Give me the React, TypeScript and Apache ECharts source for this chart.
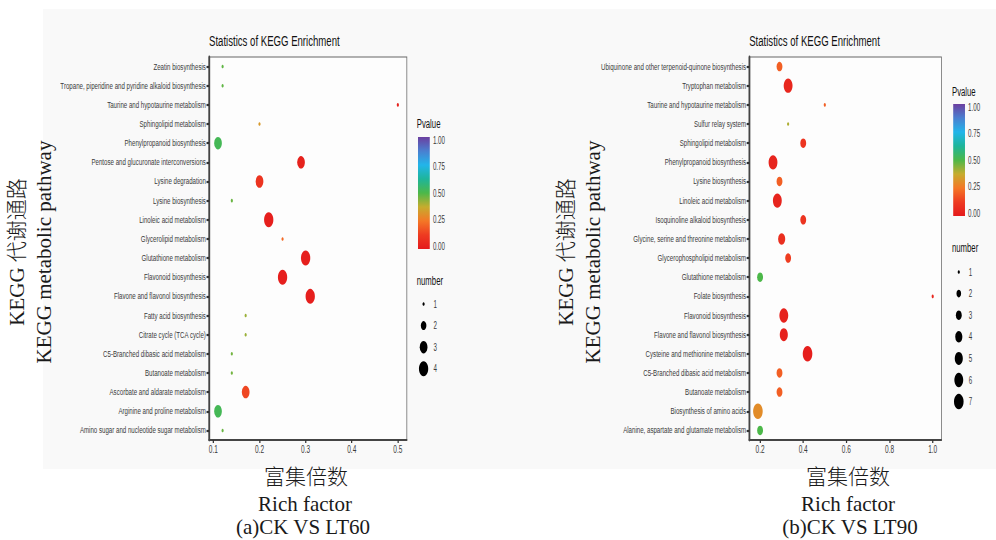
import React, { useEffect, useRef } from "react";
import * as echarts from "echarts";

// ---------------- data ----------------
const pathwaysA = [
  "Zeatin biosynthesis",
  "Tropane, piperidine and pyridine alkaloid biosynthesis",
  "Taurine and hypotaurine metabolism",
  "Sphingolipid metabolism",
  "Phenylpropanoid biosynthesis",
  "Pentose and glucuronate interconversions",
  "Lysine degradation",
  "Lysine biosynthesis",
  "Linoleic acid metabolism",
  "Glycerolipid metabolism",
  "Glutathione metabolism",
  "Flavonoid biosynthesis",
  "Flavone and flavonol biosynthesis",
  "Fatty acid biosynthesis",
  "Citrate cycle (TCA cycle)",
  "C5-Branched dibasic acid metabolism",
  "Butanoate metabolism",
  "Ascorbate and aldarate metabolism",
  "Arginine and proline metabolism",
  "Amino sugar and nucleotide sugar metabolism",
];
const richFactorA = [0.12, 0.12, 0.5, 0.2, 0.11, 0.29, 0.2, 0.14, 0.22, 0.25, 0.3, 0.25, 0.31, 0.17, 0.17, 0.14, 0.14, 0.17, 0.11, 0.12];
const numberA = [1, 1, 1, 1, 3, 3, 3, 1, 4, 1, 4, 4, 4, 1, 1, 1, 1, 3, 3, 1];
const pValueA = [0.48, 0.48, 0.03, 0.33, 0.52, 0.03, 0.1, 0.47, 0.02, 0.22, 0.02, 0.02, 0.02, 0.42, 0.42, 0.46, 0.46, 0.15, 0.52, 0.47];

const pathwaysB = [
  "Ubiquinone and other terpenoid-quinone biosynthesis",
  "Tryptophan metabolism",
  "Taurine and hypotaurine metabolism",
  "Sulfur relay system",
  "Sphingolipid metabolism",
  "Phenylpropanoid biosynthesis",
  "Lysine biosynthesis",
  "Linoleic acid metabolism",
  "Isoquinoline alkaloid biosynthesis",
  "Glycine, serine and threonine metabolism",
  "Glycerophospholipid metabolism",
  "Glutathione metabolism",
  "Folate biosynthesis",
  "Flavonoid biosynthesis",
  "Flavone and flavonol biosynthesis",
  "Cysteine and methionine metabolism",
  "C5-Branched dibasic acid metabolism",
  "Butanoate metabolism",
  "Biosynthesis of amino acids",
  "Alanine, aspartate and glutamate metabolism",
];
const richFactorB = [0.29, 0.33, 0.5, 0.33, 0.4, 0.26, 0.29, 0.28, 0.4, 0.3, 0.33, 0.2, 1.0, 0.31, 0.31, 0.42, 0.29, 0.29, 0.19, 0.2];
const numberB = [3, 6, 1, 1, 3, 6, 3, 6, 3, 4, 3, 3, 1, 6, 5, 7, 3, 3, 7, 3];
const pValueB = [0.2, 0.05, 0.2, 0.4, 0.1, 0.04, 0.2, 0.04, 0.1, 0.08, 0.13, 0.5, 0.05, 0.03, 0.03, 0.02, 0.2, 0.2, 0.3, 0.5];

const xTicksA = [0.1, 0.2, 0.3, 0.4, 0.5];
const xTicksB = [0.2, 0.4, 0.6, 0.8, 1.0];
const pvalueTicks = [1.0, 0.75, 0.5, 0.25, 0.0];
const numberLevelsA = [1, 2, 3, 4];
const numberLevelsB = [1, 2, 3, 4, 5, 6, 7];

const titleText = "Statistics of KEGG Enrichment";
const yTitleCN = "KEGG 代谢通路";
const yTitleEN = "KEGG metabolic pathway";
const xTitleCN = "富集倍数";
const xTitleEN = "Rich factor";
const captionA = "(a)CK VS LT60";
const captionB = "(b)CK VS LT90";

// ---------------- styles ----------------
const W = 1606; // unsquished width of the ggplot part
const S = 996 / W; // horizontal squish of the embedded figure
const SANS = "'Liberation Sans', Arial, sans-serif";
const SERIF = "'Liberation Serif', 'Times New Roman', 'Noto Sans CJK SC', serif";
const PCOLORS = ["#e41a1c", "#ee3b21", "#f47726", "#c6ac2e", "#4cb849", "#1eb59a", "#22b5ea", "#4a7fd0", "#6b3fa0"];
const SIZE_A = [0, 3.5, 9, 12.5, 15];
const SIZE_B = [0, 3.5, 7.5, 9.5, 11.5, 13, 14.3, 15.5];
const LABEL_COLOR = "#3a3a3a";

function buildLegend(x: number, pTitleY: number, p0Y: number, nTitleY: number, n1Y: number, sizes: number[], levels: number[]) {
  const els: any[] = [];
  const span = 106;
  const stops = PCOLORS.map((c, i) => ({ offset: 1 - i / (PCOLORS.length - 1), color: c })).reverse();
  els.push({ type: "text", x, y: pTitleY, style: { text: "Pvalue", fontSize: 12.5, fontFamily: SANS, fill: "#111", verticalAlign: "middle" } });
  els.push({
    type: "rect",
    shape: { x: x + 2, y: p0Y - span - 3, width: 19, height: span + 6 },
    style: { fill: new echarts.graphic.LinearGradient(0, 0, 0, 1, stops) },
  });
  pvalueTicks.forEach((v) => {
    els.push({ type: "text", x: x + 26, y: p0Y - v * span, style: { text: v.toFixed(2), fontSize: 10, fontFamily: SANS, fill: LABEL_COLOR, verticalAlign: "middle" } });
  });
  els.push({ type: "text", x, y: nTitleY, style: { text: "number", fontSize: 12.5, fontFamily: SANS, fill: "#111", verticalAlign: "middle" } });
  levels.forEach((n, i) => {
    const cy = n1Y + i * 21.6;
    els.push({ type: "circle", shape: { cx: x + 11, cy, r: sizes[n] / 2 }, style: { fill: "#000" } });
    els.push({ type: "text", x: x + 27, y: cy, style: { text: String(n), fontSize: 10, fontFamily: SANS, fill: LABEL_COLOR, verticalAlign: "middle" } });
  });
  return els;
}

function xAxisCfg(gridIndex: number, min: number, max: number, ticks: number[]) {
  return {
    type: "value",
    gridIndex,
    min,
    max,
    splitLine: { show: false },
    axisLine: { show: true, onZero: false, lineStyle: { color: "#444", width: 1.8 } },
    axisTick: { show: true, length: 3, customValues: ticks, lineStyle: { color: "#333", width: 2 } },
    axisLabel: { customValues: ticks, formatter: (v: number) => v.toFixed(1), fontSize: 10.5, fontFamily: SANS, color: LABEL_COLOR, margin: 4 },
  };
}

function yAxisCfg(gridIndex: number, cats: string[]) {
  return {
    type: "category",
    gridIndex,
    data: cats,
    inverse: true,
    splitLine: { show: false },
    axisLine: { show: true, lineStyle: { color: "#444", width: 2.8 } },
    axisTick: { show: true, alignWithLabel: true, length: 4, lineStyle: { color: "#333", width: 2.2 } },
    axisLabel: { interval: 0, fontSize: 9.9, fontFamily: SANS, color: LABEL_COLOR, margin: 5 },
  };
}

export default function App() {
  const mainRef = useRef<HTMLDivElement>(null);
  const capRef = useRef<HTMLDivElement>(null);

  useEffect(() => {
    if (!mainRef.current || !capRef.current) return;
    const main = echarts.init(mainRef.current, null, { renderer: "svg" });
    const cap = echarts.init(capRef.current, null, { renderer: "svg" });

    const dataA = pathwaysA.map((c, i) => [richFactorA[i], c, numberA[i], pValueA[i]]);
    const dataB = pathwaysB.map((c, i) => [richFactorB[i], c, numberB[i], pValueB[i]]);

    main.setOption({
      animation: false,
      grid: [
        { left: 337, top: 57, width: 319, height: 383, show: true, borderColor: "#666", borderWidth: 1.2, backgroundColor: "#fdfdfd" },
        { left: 1208, top: 57, width: 310, height: 383, show: true, borderColor: "#666", borderWidth: 1.2, backgroundColor: "#fdfdfd" },
      ],
      xAxis: [xAxisCfg(0, 0.0905, 0.5195, xTicksA), xAxisCfg(1, 0.1495, 1.0405, xTicksB)],
      yAxis: [yAxisCfg(0, pathwaysA), yAxisCfg(1, pathwaysB)],
      visualMap: [
        { type: "continuous", show: false, seriesIndex: 0, dimension: 3, min: 0, max: 1, inRange: { color: PCOLORS } },
        { type: "continuous", show: false, seriesIndex: 1, dimension: 3, min: 0, max: 1, inRange: { color: PCOLORS } },
      ],
      series: [
        {
          type: "scatter",
          xAxisIndex: 0,
          yAxisIndex: 0,
          data: dataA,
          encode: { x: 0, y: 1 },
          symbol: "circle",
          symbolSize: (v: any[]) => SIZE_A[v[2]],
          itemStyle: { opacity: 1 },
        },
        {
          type: "scatter",
          xAxisIndex: 1,
          yAxisIndex: 1,
          data: dataB,
          encode: { x: 0, y: 1 },
          symbol: "circle",
          symbolSize: (v: any[]) => SIZE_B[v[2]],
          itemStyle: { opacity: 1 },
        },
      ],
      graphic: [
        { type: "text", x: 337, y: 41, style: { text: titleText, fontSize: 15.5, fontFamily: SANS, fill: "#111", verticalAlign: "middle" } },
        { type: "text", x: 1208, y: 41, style: { text: titleText, fontSize: 15.5, fontFamily: SANS, fill: "#111", verticalAlign: "middle" } },
        ...buildLegend(672, 124, 246, 281, 304, SIZE_A, numberLevelsA),
        ...buildLegend(1535, 92, 213, 248, 272, SIZE_B, numberLevelsB),
      ],
    });

    const capStyle = (text: string) => ({
      text,
      fontSize: 21,
      fontFamily: SERIF,
      fontWeight: 300,
      fill: "#1a1a1a",
      align: "center",
      verticalAlign: "middle",
    });
    cap.setOption({
      animation: false,
      graphic: [
        { type: "text", x: 17, y: 252, rotation: Math.PI / 2, style: capStyle(yTitleCN) },
        { type: "text", x: 44, y: 252, rotation: Math.PI / 2, style: capStyle(yTitleEN) },
        { type: "text", x: 566, y: 252, rotation: Math.PI / 2, style: capStyle(yTitleCN) },
        { type: "text", x: 593, y: 252, rotation: Math.PI / 2, style: capStyle(yTitleEN) },
        { type: "text", x: 306, y: 477, style: capStyle(xTitleCN) },
        { type: "text", x: 305, y: 504, style: capStyle(xTitleEN) },
        { type: "text", x: 303, y: 527, style: capStyle(captionA) },
        { type: "text", x: 848, y: 477, style: capStyle(xTitleCN) },
        { type: "text", x: 848, y: 504, style: capStyle(xTitleEN) },
        { type: "text", x: 850, y: 527, style: capStyle(captionB) },
      ],
    });

    return () => {
      main.dispose();
      cap.dispose();
    };
  }, []);

  return (
    <div style={{ position: "fixed", left: 0, top: 0, width: 996, height: 540, overflow: "hidden", background: "#fff" }}>
      <div style={{ position: "absolute", left: 43, top: 9, width: 953, height: 460, background: "#f9f9f9" }} />
      <div
        ref={mainRef}
        style={{ position: "absolute", left: 0, top: 0, width: W, height: 540, transform: `scaleX(${S})`, transformOrigin: "0 0" }}
      />
      <div ref={capRef} style={{ position: "absolute", left: 0, top: 0, width: 996, height: 540, pointerEvents: "none" }} />
    </div>
  );
}
